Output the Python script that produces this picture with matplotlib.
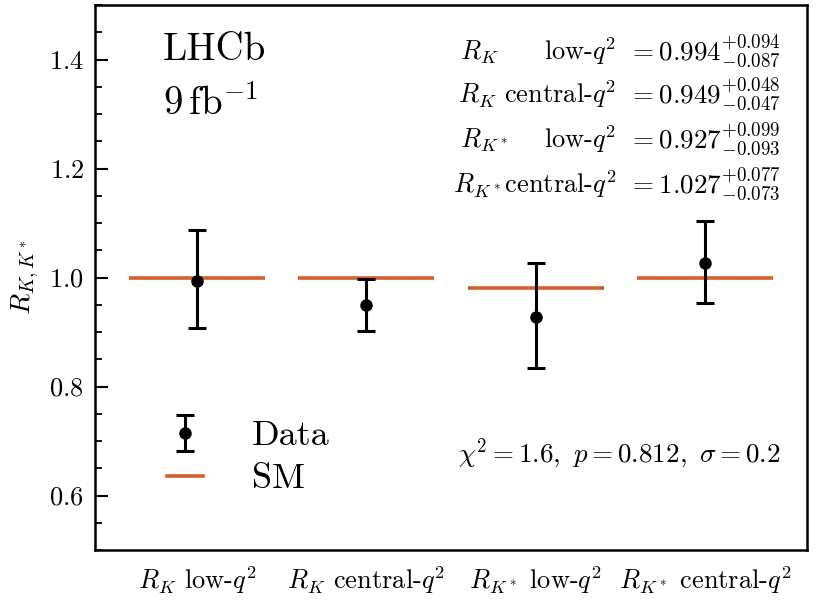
import matplotlib
matplotlib.use("Agg")
import matplotlib.pyplot as plt
from matplotlib.lines import Line2D
from matplotlib.ticker import MultipleLocator

plt.rcParams['font.family'] = 'serif'
plt.rcParams['font.serif'] = ['cmr10']
plt.rcParams['mathtext.fontset'] = 'cm'
plt.rcParams['axes.formatter.use_mathtext'] = True

categories = [r'$R_K$ low-$q^2$', r'$R_K$ central-$q^2$',
              r'$R_{K^*}$ low-$q^2$', r'$R_{K^*}$ central-$q^2$']
values = [0.994, 0.949, 0.927, 1.027]
err_up = [0.094, 0.048, 0.099, 0.077]
err_down = [0.087, 0.047, 0.093, 0.073]
sm_values = [1.0, 1.0, 0.98, 1.0]

row_names = [r'$R_K$', r'$R_K$', r'$R_{K^*}$', r'$R_{K^*}$']
row_bins = [r'low-$q^2$', r'central-$q^2$', r'low-$q^2$', r'central-$q^2$']
fit_text = r'$\chi^2 = 1.6,\ p = 0.812,\ \sigma = 0.2$'

orange = '#d4602c'
W, H = 820, 601
fig = plt.figure(figsize=(8.2, 6.01), dpi=100)
ax_l, ax_r, ax_t, ax_b = 95, 807, 5, 550
ax = fig.add_axes([ax_l / W, 1 - ax_b / H, (ax_r - ax_l) / W, (ax_b - ax_t) / H])

def ax_xy(px, py):
    return ((px - ax_l) / (ax_r - ax_l), (ax_b - py) / (ax_b - ax_t))

xs = list(range(len(categories)))
ax.hlines(sm_values, [x - 0.4 for x in xs], [x + 0.4 for x in xs],
          color=orange, lw=2.6, zorder=2)
data_h = ax.errorbar(xs, values, yerr=[err_down, err_up], fmt='o', color='black',
                     ms=8, elinewidth=2.2, capsize=6.5, capthick=2.2, zorder=3)

ax.set_xlim(-0.6, 3.6)
ax.set_ylim(0.5, 1.5)
ax.set_xticks(xs)
ax.set_xticklabels(categories, fontsize=19)
ax.tick_params(axis='x', length=0, pad=10)
ax.yaxis.set_major_locator(MultipleLocator(0.2))
ax.yaxis.set_minor_locator(MultipleLocator(0.05))
ax.tick_params(axis='y', which='major', direction='in', length=9, width=1.5, labelsize=19, pad=8)
ax.tick_params(axis='y', which='minor', direction='in', length=5, width=1.3)
ax.set_yticks([0.6, 0.8, 1.0, 1.2, 1.4])
for s in ax.spines.values():
    s.set_linewidth(1.8)
ax.set_ylabel(r'$R_{K,K^*}$', fontsize=20, labelpad=6)

# LHCb label
x0, y0 = ax_xy(163, 60)
ax.text(x0, y0, 'LHCb', transform=ax.transAxes, fontsize=28, va='baseline', ha='left')
x0, y0 = ax_xy(163, 115)
ax.text(x0, y0, r'$9\,\mathrm{fb}^{-1}$', transform=ax.transAxes, fontsize=28, va='baseline', ha='left')

# results table
baselines = [60, 103, 148, 193]
for name, b, v, eu, ed, py in zip(row_names, row_bins, values, err_up, err_down, baselines):
    xa, ya = ax_xy(460, py)
    xb, _ = ax_xy(616, py)
    if b.startswith('central'):
        sep = ' ' if name == r'$R_K$' else ''
        ax.text(xb, ya, name + sep + b, transform=ax.transAxes, fontsize=19,
                va='baseline', ha='right')
    else:
        ax.text(xa, ya, name, transform=ax.transAxes, fontsize=19, va='baseline', ha='left')
        ax.text(xb, ya, b, transform=ax.transAxes, fontsize=19, va='baseline', ha='right')
    xc, _ = ax_xy(628, py)
    ax.text(xc, ya, r'$= %.3f^{+%.3f}_{-%.3f}$' % (v, eu, ed), transform=ax.transAxes,
            fontsize=19.5, va='baseline', ha='left')

xf, yf = ax_xy(780, 462)
ax.text(xf, yf, fit_text, transform=ax.transAxes, fontsize=19.5, va='baseline', ha='right')

handles = [data_h, Line2D([], [], color=orange, lw=2.6)]
lx, ly = ax_xy(167, 420)
ax.legend(handles, ['Data', 'SM'], loc='upper left', bbox_to_anchor=(lx, ly),
          frameon=False, fontsize=26, handlelength=1.0, handletextpad=1.35,
          labelspacing=0.3, borderpad=0, borderaxespad=0)

fig.savefig('out.png', dpi=100)
